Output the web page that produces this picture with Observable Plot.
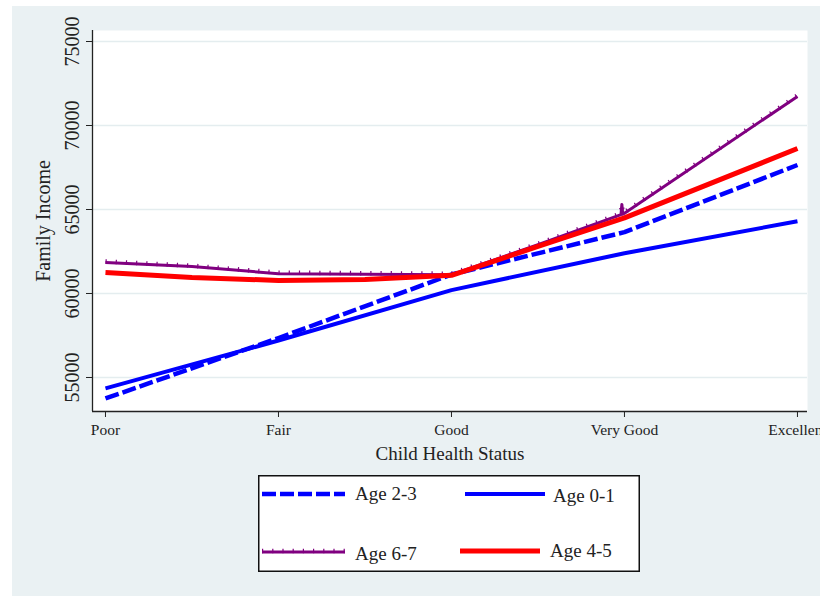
<!DOCTYPE html>
<html><head><meta charset="utf-8">
<script src="https://cdn.jsdelivr.net/npm/d3@7"></script>
<script src="https://cdn.jsdelivr.net/npm/@observablehq/plot@0.6"></script>
<style>
html,body{margin:0;padding:0;background:#fff;width:820px;height:596px;overflow:hidden;}
#wrap{position:absolute;left:12px;top:6px;width:808px;height:590px;background:#eaf1f3;overflow:hidden;font-family:"Liberation Serif",serif;}
#chart{position:absolute;left:0;top:0;}
#legend{position:absolute;left:246px;top:469px;width:382px;height:97px;}
</style></head><body><div id="wrap"><div id="chart"></div><div id="legend"></div></div>
<script>
const categories = ["Poor", "Fair", "Good", "Very Good", "Excellent"];
const xTicks = [1, 2, 3, 4, 5];
const yTicks = [55000, 60000, 65000, 70000, 75000];

const age01X = [1, 2, 3, 4, 5];
const age01Y = [54350, 57200, 60200, 62400, 64300];
const age23X = [1, 2, 3, 4, 5];
const age23Y = [53750, 57350, 61130, 63650, 67650];
const age45X = [1, 1.5, 2, 2.5, 3, 3.5, 4, 5];
const age45Y = [61250, 60950, 60780, 60830, 61080, 62800, 64500, 68630];
const age67X = [1, 1.5, 2, 2.5, 3, 3.5, 3.98, 3.985, 3.99, 4, 5];
const age67Y = [61850, 61600, 61180, 61150, 61120, 62900, 64700, 65300, 64720, 64780, 71730];

const series = [
  {name: "Age 0-1", xs: age01X, ys: age01Y, stroke: "#0000ff", width: 4, dash: null, ticks: false},
  {name: "Age 2-3", xs: age23X, ys: age23Y, stroke: "#0000ff", width: 4.5, dash: "14,4", ticks: false},
  {name: "Age 6-7", xs: age67X, ys: age67Y, stroke: "#800080", width: 3, dash: null, ticks: true},
  {name: "Age 4-5", xs: age45X, ys: age45Y, stroke: "#ff0000", width: 5, dash: null, ticks: false}
];
const legendOrder = ["Age 2-3", "Age 0-1", "Age 6-7", "Age 4-5"];

const xDomain = [0.925, 5.058];
const yDomain = [52976, 75655];

const lineMarks = series.flatMap(s => {
  const pts = s.xs.map((x, i) => ({x, y: s.ys[i]}));
  const m = [Plot.line(pts, {
    x: "x", y: "y", stroke: s.stroke, strokeWidth: s.width,
    strokeDasharray: s.dash, strokeLinecap: "butt", strokeLinejoin: "round"
  })];
  if (s.ticks) m.push(Plot.line(pts, {
    x: "x", y: "y", stroke: s.stroke, strokeWidth: 4.5, dy: -1,
    strokeDasharray: "1.2,9", strokeLinecap: "butt"
  }));
  return m;
});

const chart = Plot.plot({
  width: 808, height: 460,
  marginLeft: 80, marginTop: 24, marginRight: 13, marginBottom: 55,
  style: {fontFamily: "'Liberation Serif', serif", background: "transparent", color: "#222"},
  x: {type: "linear", domain: xDomain},
  y: {type: "linear", domain: yDomain},
  marks: [
    Plot.frame({fill: "white", stroke: null}),
    Plot.gridY(yTicks, {stroke: "#e4edef", strokeOpacity: 1, strokeWidth: 1.3}),
    ...lineMarks,
    Plot.ruleX([xDomain[0]], {stroke: "#222", strokeWidth: 1.3}),
    Plot.ruleY([yDomain[0]], {stroke: "#222", strokeWidth: 1.3}),
    Plot.axisY(yTicks, {tickSize: 6, tickFormat: () => "", label: null, stroke: "#222"}),
    Plot.text(yTicks, {y: d => d, frameAnchor: "left", dx: -20, rotate: -90, text: d => String(d),
      fontSize: 20, textAnchor: "middle", lineAnchor: "middle", fill: "#222"}),
    Plot.text(["Family Income"], {frameAnchor: "left", dx: -49, rotate: -90, fontSize: 20,
      textAnchor: "middle", lineAnchor: "middle", fill: "#222"}),
    Plot.axisX(xTicks, {tickSize: 6, tickPadding: 6, tickFormat: i => categories[i - 1],
      fontSize: 15.5, label: null, stroke: "#222", fill: "#222"}),
    Plot.text(["Child Health Status"], {frameAnchor: "bottom", dy: 42, fontSize: 19,
      lineAnchor: "middle", fill: "#222"})
  ]
});
document.getElementById("chart").appendChild(chart);

// legend
const legendPos = {
  "Age 2-3": {x0: 4, x1: 87, tx: 97, y: 19, ty: 18},
  "Age 0-1": {x0: 207, x1: 287, tx: 295, y: 19, ty: 20},
  "Age 6-7": {x0: 4, x1: 87, tx: 97, y: 77, ty: 78},
  "Age 4-5": {x0: 202, x1: 282, tx: 292, y: 76, ty: 75}
};
const lsvg = d3.select("#legend").append("svg").attr("width", 382).attr("height", 97);
lsvg.append("rect").attr("x", 0.75).attr("y", 0.75).attr("width", 380.5).attr("height", 95.5)
  .attr("fill", "white").attr("stroke", "#111").attr("stroke-width", 1.5);
legendOrder.forEach(name => {
  const s = series.find(d => d.name === name);
  const p = legendPos[name];
  lsvg.append("line").attr("x1", p.x0).attr("x2", p.x1).attr("y1", p.y).attr("y2", p.y)
    .attr("stroke", s.stroke).attr("stroke-width", s.width)
    .attr("stroke-dasharray", s.dash);
  if (s.ticks) lsvg.append("line").attr("x1", p.x0).attr("x2", p.x1).attr("y1", p.y - 1).attr("y2", p.y - 1)
    .attr("stroke", s.stroke).attr("stroke-width", 4.5).attr("stroke-dasharray", "1.2,9");
  lsvg.append("text").attr("x", p.tx).attr("y", p.ty).attr("dy", "0.35em")
    .attr("font-size", 19).attr("font-family", "'Liberation Serif', serif").attr("fill", "#222")
    .text(name);
});
</script></body></html>
